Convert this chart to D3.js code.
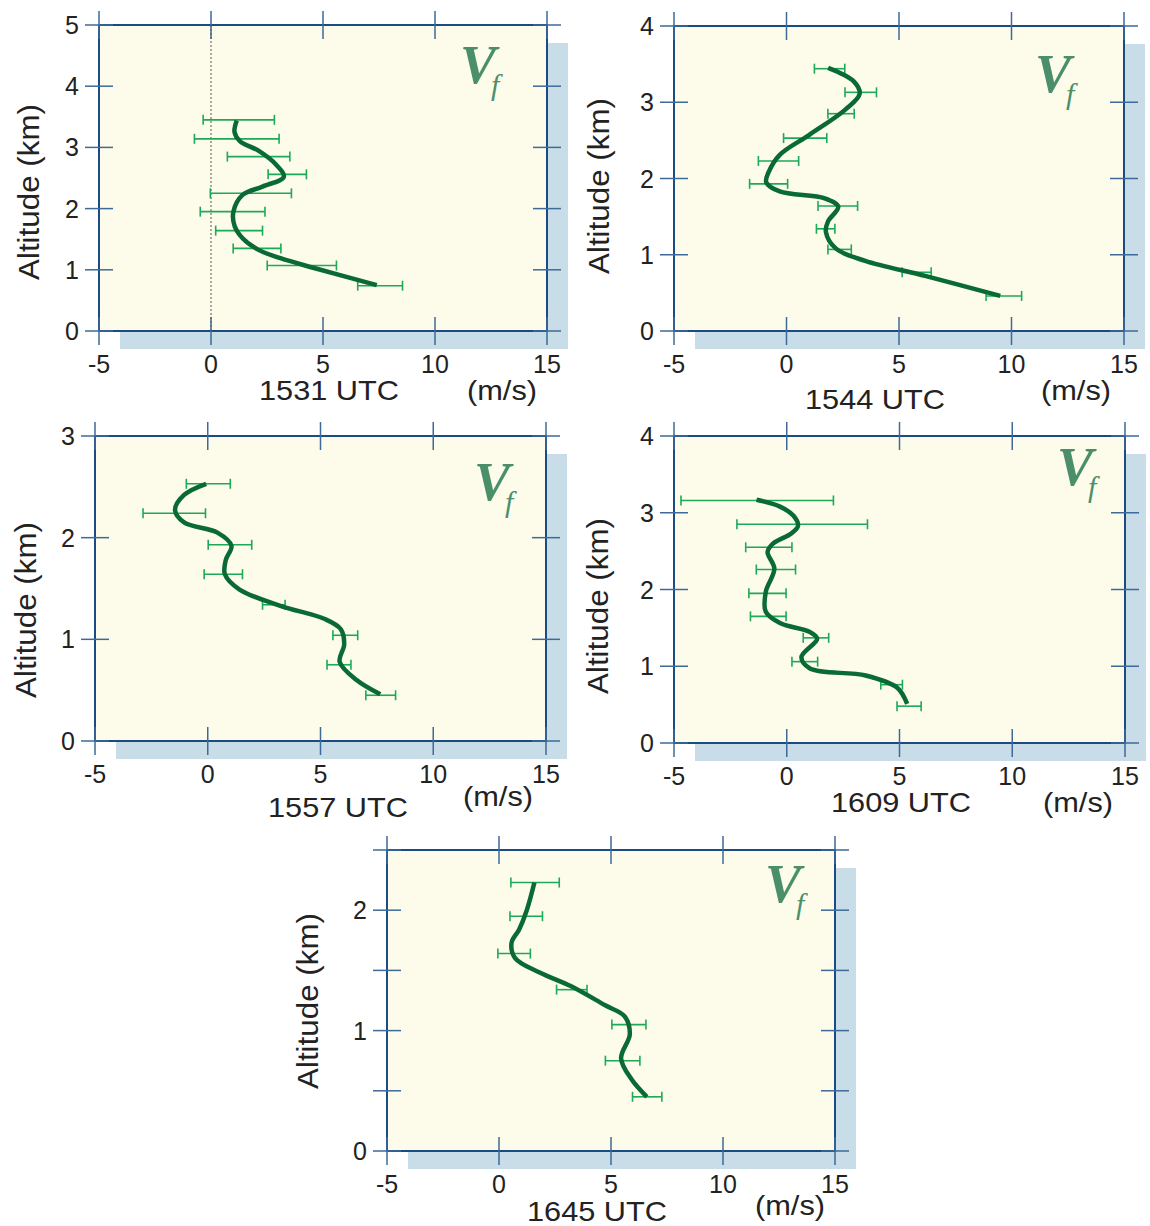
<!DOCTYPE html>
<html>
<head>
<meta charset="utf-8">
<script src="https://cdn.jsdelivr.net/npm/d3@7"></script>
<style>
  body { margin: 0; background: #fff; }
  svg { display: block; font-family: "Liberation Sans", Arial, sans-serif; }
</style>
</head>
<body>
<svg id="chart" width="1150" height="1226"></svg>
<script>
// shared axis values
var xTicks = [-5, 0, 5, 10, 15]
var times = ["1531 UTC", "1544 UTC", "1557 UTC", "1609 UTC", "1645 UTC"]
var altTop = [5, 4, 3, 4, 2.5]

// smoothed Vf profiles: [speed m/s, altitude km]
var vf1531 = [[7.4,0.75],[4.6,1.03],[3.1,1.19],[2.1,1.33],[1.4,1.52],[1.05,1.72],[1.0,1.95],[1.4,2.22],[2.3,2.36],[3.25,2.52],[2.9,2.72],[2.1,2.95],[1.3,3.1],[1.05,3.25],[1.15,3.44]]
var vf1544 = [[9.5,0.46],[6.2,0.72],[3.5,0.92],[2.2,1.08],[1.75,1.3],[1.85,1.44],[2.3,1.63],[1.7,1.74],[-0.3,1.83],[-0.9,1.95],[-0.8,2.08],[-0.3,2.31],[1.0,2.57],[2.6,2.9],[3.25,3.11],[3.0,3.27],[1.85,3.45]]
var vf1557 = [[7.65,0.46],[6.6,0.6],[5.85,0.78],[6.05,0.95],[5.9,1.1],[5.19,1.2],[3.22,1.33],[1.41,1.49],[0.76,1.64],[0.8,1.78],[1.05,1.92],[0.43,2.05],[-1.05,2.15],[-1.45,2.27],[-1.05,2.42],[-0.07,2.53]]
var vf1609 = [[5.34,0.51],[4.9,0.72],[3.5,0.88],[1.03,0.97],[0.65,1.12],[1.35,1.36],[1.0,1.45],[-0.28,1.56],[-0.93,1.71],[-0.93,1.97],[-0.55,2.27],[-0.85,2.49],[-0.6,2.6],[0.2,2.73],[0.5,2.83],[0.3,2.96],[-0.3,3.08],[-1.34,3.17]]
var vf1645 = [[6.6,0.45],[5.9,0.6],[5.45,0.77],[5.84,0.97],[5.6,1.12],[4.74,1.21],[3.2,1.37],[1.84,1.48],[0.73,1.6],[0.56,1.73],[0.9,1.84],[1.24,2.0],[1.58,2.23]]

// error bars: [altitude km, low, high]
var err1531 = [[3.45,-0.35,2.83],[3.14,-0.74,3.04],[2.85,0.73,3.52],[2.56,2.55,4.26],[2.25,-0.03,3.59],[1.95,-0.48,2.41],[1.64,0.21,2.30],[1.35,0.99,3.12],[1.07,2.51,5.60],[0.74,6.55,8.55]]
var err1544 = [[3.44,1.24,2.59],[3.13,2.60,4.0],[2.85,1.84,3.01],[2.53,-0.13,1.79],[2.23,-1.25,0.54],[1.93,-1.64,0.05],[1.64,1.40,3.16],[1.34,1.33,2.15],[1.07,1.84,2.88],[0.77,5.14,6.43],[0.46,8.87,10.45]]
var err1557 = [[2.53,-0.95,1.0],[2.24,-2.87,-0.1],[1.93,0.02,1.95],[1.64,-0.16,1.54],[1.34,2.43,3.43],[1.04,5.55,6.65],[0.75,5.29,6.35],[0.45,7.01,8.33]]
var err1609 = [[3.16,-4.69,2.07],[2.85,-2.21,3.58],[2.55,-1.82,0.23],[2.26,-1.35,0.39],[1.95,-1.68,-0.03],[1.65,-1.61,-0.03],[1.37,0.73,1.86],[1.06,0.23,1.37],[0.76,4.17,5.13],[0.48,4.89,5.96]]
var err1645 = [[2.23,0.53,2.69],[1.95,0.49,1.94],[1.64,-0.05,1.40],[1.34,2.57,3.93],[1.05,5.04,6.56],[0.75,4.75,6.29],[0.45,5.96,7.27]]

var profiles = [vf1531, vf1544, vf1557, vf1609, vf1645]
var errors = [err1531, err1544, err1557, err1609, err1645]

// panel boxes and label spots
var layout = [
  {x0: 99, x1: 547, y0: 25, y1: 331, step: 1, utc: [329, 400], ms: [502, 400], alt: [29, 192], vf: [460, 83], zero: true},
  {x0: 674, x1: 1124, y0: 26, y1: 331, step: 1, utc: [875, 409], ms: [1076, 400], alt: [599, 186], vf: [1035, 92]},
  {x0: 95, x1: 546, y0: 436, y1: 741, step: 1, utc: [338, 817], ms: [498, 806], alt: [26, 610], vf: [474, 500]},
  {x0: 674, x1: 1125, y0: 436, y1: 743, step: 1, utc: [901, 812], ms: [1078, 812], alt: [598, 606], vf: [1057, 485]},
  {x0: 387, x1: 835, y0: 850, y1: 1151, step: 0.5, utc: [597, 1221], ms: [790, 1215], alt: [308, 1001], vf: [765, 902]}
]

var svg = d3.select('#chart')
var tickColor = '#3d6a98', frameColor = '#1c4a82'

layout.forEach(function(p, i) {
  var x = d3.scaleLinear().domain([-5, 15]).range([p.x0, p.x1])
  var y = d3.scaleLinear().domain([0, altTop[i]]).range([p.y1, p.y0])
  var g = svg.append('g')

  // shadow + plot area
  g.append('rect')
    .attr('x', p.x0 + 21).attr('y', p.y0 + 18)
    .attr('width', p.x1 - p.x0).attr('height', p.y1 - p.y0)
    .attr('fill', '#c8dde8')
  g.append('rect')
    .attr('x', p.x0).attr('y', p.y0)
    .attr('width', p.x1 - p.x0).attr('height', p.y1 - p.y0)
    .attr('fill', '#fdfbea')
    .attr('stroke', frameColor).attr('stroke-width', 2)

  // ticks crossing the frame
  var yTicks = d3.range(0, altTop[i] + 0.001, p.step)
  xTicks.forEach(function(t) {
    [p.y0, p.y1].forEach(function(yy) {
      g.append('line')
        .attr('x1', x(t)).attr('x2', x(t))
        .attr('y1', yy - 14).attr('y2', yy + 14)
        .attr('stroke', tickColor).attr('stroke-width', 1.5)
    })
  })
  yTicks.forEach(function(t) {
    [p.x0, p.x1].forEach(function(xx) {
      g.append('line')
        .attr('x1', xx - 14).attr('x2', xx + 14)
        .attr('y1', y(t)).attr('y2', y(t))
        .attr('stroke', tickColor).attr('stroke-width', 1.5)
    })
  })

  // tick labels
  g.selectAll('.xl').data(xTicks).enter().append('text')
    .attr('x', function(d) { return x(d) })
    .attr('y', p.y1 + 42)
    .attr('text-anchor', 'middle')
    .attr('font-size', 25).attr('fill', '#222')
    .text(function(d) { return d < 0 ? '-' + Math.abs(d) : d })
  g.selectAll('.yl').data(yTicks.filter(function(d) { return d % 1 === 0 })).enter().append('text')
    .attr('x', p.x0 - 20)
    .attr('y', function(d) { return y(d) + 9 })
    .attr('text-anchor', 'end')
    .attr('font-size', 25).attr('fill', '#222')
    .text(function(d) { return d })

  // axis titles (the original type is set a bit wide)
  g.append('text')
    .attr('transform', `translate(${p.alt[0]}, ${p.alt[1]}) rotate(-90)`)
    .attr('x', -88).attr('dy', '0.35em')
    .attr('font-size', 29).attr('fill', '#222')
    .attr('textLength', 176).attr('lengthAdjust', 'spacingAndGlyphs')
    .text('Altitude (km)')
  g.append('text')
    .attr('x', p.utc[0] - 70).attr('y', p.utc[1])
    .attr('font-size', 28).attr('fill', '#222')
    .attr('textLength', 140).attr('lengthAdjust', 'spacingAndGlyphs')
    .text(times[i])
  g.append('text')
    .attr('x', p.ms[0] - 35).attr('y', p.ms[1])
    .attr('font-size', 28).attr('fill', '#222')
    .attr('textLength', 70).attr('lengthAdjust', 'spacingAndGlyphs')
    .text('(m/s)')

  if (p.zero) {
    g.append('line')
      .attr('x1', x(0)).attr('x2', x(0))
      .attr('y1', p.y0).attr('y2', p.y1)
      .attr('stroke', '#555').attr('stroke-width', 1)
      .attr('stroke-dasharray', '2,2')
  }

  // Vf label: V and subscript f as separate texts
  g.append('text')
    .attr('x', p.vf[0]).attr('y', p.vf[1])
    .attr('fill', '#4a8f6a')
    .attr('font-family', '"Liberation Serif", "Times New Roman", serif')
    .attr('font-style', 'italic').attr('font-weight', 'bold')
    .attr('font-size', 54)
    .text('V')
  g.append('text')
    .attr('x', p.vf[0] + 31).attr('y', p.vf[1] + 12)
    .attr('fill', '#4a8f6a')
    .attr('font-family', '"Liberation Serif", "Times New Roman", serif')
    .attr('font-style', 'italic')
    .attr('font-size', 30)
    .text('f')

  // error bars
  var eb = g.selectAll('.eb').data(errors[i]).enter().append('g')
    .attr('stroke', '#1caa58').attr('stroke-width', 1.6).attr('fill', 'none')
  eb.append('line')
    .attr('x1', function(d) { return x(d[1]) }).attr('x2', function(d) { return x(d[2]) })
    .attr('y1', function(d) { return y(d[0]) }).attr('y2', function(d) { return y(d[0]) })
  eb.append('line')
    .attr('x1', function(d) { return x(d[1]) }).attr('x2', function(d) { return x(d[1]) })
    .attr('y1', function(d) { return y(d[0]) - 5 }).attr('y2', function(d) { return y(d[0]) + 5 })
  eb.append('line')
    .attr('x1', function(d) { return x(d[2]) }).attr('x2', function(d) { return x(d[2]) })
    .attr('y1', function(d) { return y(d[0]) - 5 }).attr('y2', function(d) { return y(d[0]) + 5 })

  // profile curve
  var line = d3.line()
    .x(function(d) { return x(d[0]) })
    .y(function(d) { return y(d[1]) })
    .curve(d3.curveCatmullRom.alpha(0.5))
  g.append('path')
    .datum(profiles[i])
    .attr('d', line)
    .attr('fill', 'none')
    .attr('stroke', '#0a6a35')
    .attr('stroke-width', 4.5)
})
</script>
</body>
</html>
